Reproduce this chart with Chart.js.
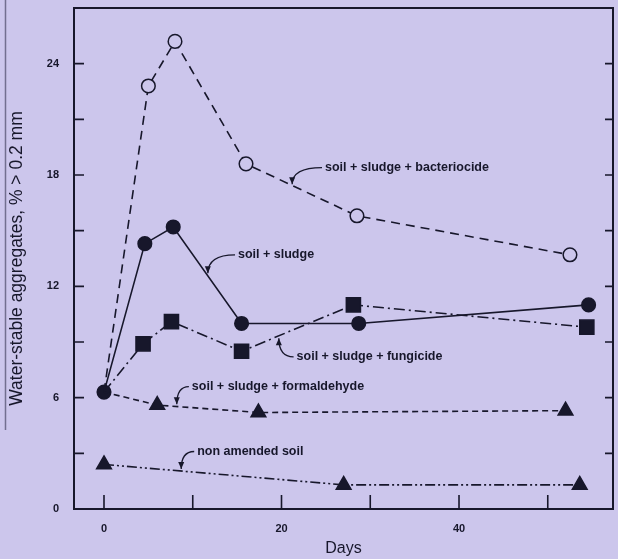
<!DOCTYPE html>
<html>
<head>
<meta charset="utf-8">
<script src="https://cdn.jsdelivr.net/npm/chart.js@4.4.1/dist/chart.umd.min.js"></script>
<style>
  html, body { margin: 0; padding: 0; background: #ccc6ec; }
  canvas { display: block; }
</style>
</head>
<body>
<canvas id="c" width="618" height="559"></canvas>
<script>
// Water-stable aggregates (> 0.2 mm) over time for each soil treatment
const bacteriocideDays   = [0, 5, 8, 16, 28.5, 52.5];
const bacteriocideValues = [6.3, 22.8, 25.2, 18.6, 15.8, 13.7];

const sludgeDays   = [0, 4.6, 7.8, 15.5, 28.7, 54.6];
const sludgeValues = [6.3, 14.3, 15.2, 10.0, 10.0, 11.0];

const fungicideDays   = [0, 4.4, 7.6, 15.5, 28.1, 54.4];
const fungicideValues = [6.3, 8.9, 10.1, 8.5, 11.0, 9.8];

const formaldehydeDays   = [0, 6, 17.4, 52];
const formaldehydeValues = [6.3, 5.6, 5.2, 5.3];

const nonAmendedDays   = [0, 27, 53.6];
const nonAmendedValues = [2.4, 1.3, 1.3];

const seriesNames = [
  'soil + sludge + bacteriocide',
  'soil + sludge',
  'soil + sludge + fungicide',
  'soil + sludge + formaldehyde',
  'non amended soil'
];

const yTickLabels = [0, 6, 12, 18, 24];
const xTickLabels = [0, 20, 40];

const INK = '#17172b';
const PAPER = '#ccc6ec';
const FONT = "'Liberation Sans', Arial, sans-serif";

const toPoints = (xs, ys) => xs.map((x, i) => ({ x: x, y: ys[i] }));

// Callout placement for each series name: text anchor and arrow tip, in data units
const callouts = [
  { tx: 24.9, ty: 18.4, ax: 21.2, ay: 17.5 },
  { tx: 15.1, ty: 13.7, ax: 11.7, ay: 12.7 },
  { tx: 21.7, ty: 8.2,  ax: 19.7, ay: 9.2 },
  { tx: 9.9,  ty: 6.6,  ax: 8.2,  ay: 5.65 },
  { tx: 10.5, ty: 3.1,  ax: 8.7,  ay: 2.15 }
];

const framePlugin = {
  id: 'frame',
  beforeDraw(chart) {
    const ctx = chart.ctx;
    ctx.save();
    ctx.fillStyle = PAPER;
    ctx.fillRect(0, 0, chart.width, chart.height);
    // edge of the page along the left margin
    ctx.strokeStyle = 'rgba(40,40,70,0.55)';
    ctx.lineWidth = 1.5;
    ctx.beginPath();
    ctx.moveTo(5.5, 0);
    ctx.lineTo(5.5, 430);
    ctx.stroke();
    ctx.restore();
  },
  afterDatasetsDraw(chart) {
    const ctx = chart.ctx;
    const a = chart.chartArea;
    const xs = chart.scales.x, ys = chart.scales.y;
    ctx.save();
    ctx.strokeStyle = INK;
    ctx.lineWidth = 2;
    ctx.strokeRect(a.left, a.top, a.right - a.left, a.bottom - a.top);

    // inward ticks: left and right every 3 units, bottom every 10 days
    ctx.lineWidth = 1.6;
    ctx.beginPath();
    for (let v = 3; v <= 24; v += 3) {
      const py = ys.getPixelForValue(v);
      ctx.moveTo(a.left, py); ctx.lineTo(a.left + 10, py);
      ctx.moveTo(a.right, py); ctx.lineTo(a.right - 8, py);
    }
    for (let d = 0; d <= 50; d += 10) {
      const px = xs.getPixelForValue(d);
      ctx.moveTo(px, a.bottom); ctx.lineTo(px, a.bottom - 14);
    }
    ctx.stroke();

    // series callouts with curved leaders
    ctx.font = "bold 12.5px " + FONT;
    ctx.textBaseline = 'middle';
    ctx.textAlign = 'left';
    ctx.fillStyle = INK;
    ctx.lineWidth = 1.3;
    callouts.forEach((c, i) => {
      const tx = xs.getPixelForValue(c.tx), ty = ys.getPixelForValue(c.ty);
      const ax = xs.getPixelForValue(c.ax), ay = ys.getPixelForValue(c.ay);
      ctx.fillText(seriesNames[i], tx, ty);
      const sx = tx - 3;
      ctx.beginPath();
      ctx.moveTo(sx, ty);
      ctx.quadraticCurveTo(ax, ty, ax, ay);
      ctx.stroke();
      const dir = ay > ty ? 1 : -1;
      ctx.beginPath();
      ctx.moveTo(ax, ay);
      ctx.lineTo(ax - 3, ay - dir * 7);
      ctx.lineTo(ax + 3, ay - dir * 7);
      ctx.closePath();
      ctx.fill();
    });
    ctx.restore();
  }
};

const baseLine = { showLine: true, borderColor: INK, pointBorderColor: INK, borderWidth: 1.6, pointBorderWidth: 1.5 };

new Chart(document.getElementById('c'), {
  type: 'scatter',
  data: {
    datasets: [
      Object.assign({}, baseLine, {
        label: seriesNames[4],
        data: toPoints(nonAmendedDays, nonAmendedValues),
        borderDash: [10, 3, 2, 3, 2, 3],
        pointStyle: 'triangle', pointRadius: 8.5, pointBackgroundColor: INK
      }),
      Object.assign({}, baseLine, {
        label: seriesNames[3],
        data: toPoints(formaldehydeDays, formaldehydeValues),
        borderDash: [6, 4],
        pointStyle: 'triangle', pointRadius: [0, 8.5, 8.5, 8.5], pointBackgroundColor: INK
      }),
      Object.assign({}, baseLine, {
        label: seriesNames[0],
        data: toPoints(bacteriocideDays, bacteriocideValues),
        borderDash: [9, 6],
        pointStyle: 'circle', pointRadius: [0, 6.8, 6.8, 6.8, 6.8, 6.8], pointBackgroundColor: PAPER
      }),
      Object.assign({}, baseLine, {
        label: seriesNames[2],
        data: toPoints(fungicideDays, fungicideValues),
        borderDash: [11, 4, 2, 4],
        pointStyle: 'rect', pointRadius: [0, 10, 10, 10, 10, 10], pointBackgroundColor: INK
      }),
      Object.assign({}, baseLine, {
        label: seriesNames[1],
        data: toPoints(sludgeDays, sludgeValues),
        pointStyle: 'circle', pointRadius: 6.8, pointBackgroundColor: INK
      })
    ]
  },
  options: {
    responsive: false,
    devicePixelRatio: 1,
    animation: false,
    layout: { autoPadding: false, padding: { top: 8, right: 5, left: 0, bottom: 0 } },
    plugins: { legend: { display: false }, tooltip: { enabled: false } },
    scales: {
      x: {
        type: 'linear',
        min: -3.38, max: 57.35,
        grid: { display: false },
        border: { display: false },
        ticks: {
          stepSize: 10, includeBounds: false, autoSkip: false, maxRotation: 0,
          padding: 5, color: INK, font: { family: FONT, size: 11, weight: 'bold' },
          callback: v => xTickLabels.includes(v) ? String(v) : ''
        },
        title: { display: true, text: 'Days', color: INK, font: { family: FONT, size: 16 }, padding: { top: 0, bottom: 1 } },
        afterFit(scale) {
          scale.height = 50;
          scale.paddingLeft = 0;
          scale.paddingRight = 0;
        }
      },
      y: {
        min: 0, max: 27,
        grid: { display: false },
        border: { display: false },
        ticks: {
          stepSize: 3, includeBounds: false, autoSkip: false,
          padding: 7, color: INK, font: { family: FONT, size: 11, weight: 'bold' },
          callback: v => yTickLabels.includes(v) ? String(v) : ''
        },
        title: { display: true, text: 'Water-stable aggregates, % > 0.2 mm', color: INK, font: { family: FONT, size: 17.5 }, padding: { top: 7, bottom: 0 } },
        afterFit(scale) {
          scale.width = 74;
          scale.paddingTop = 0;
          scale.paddingBottom = 0;
        }
      }
    }
  },
  plugins: [framePlugin]
});
</script>
</body>
</html>
